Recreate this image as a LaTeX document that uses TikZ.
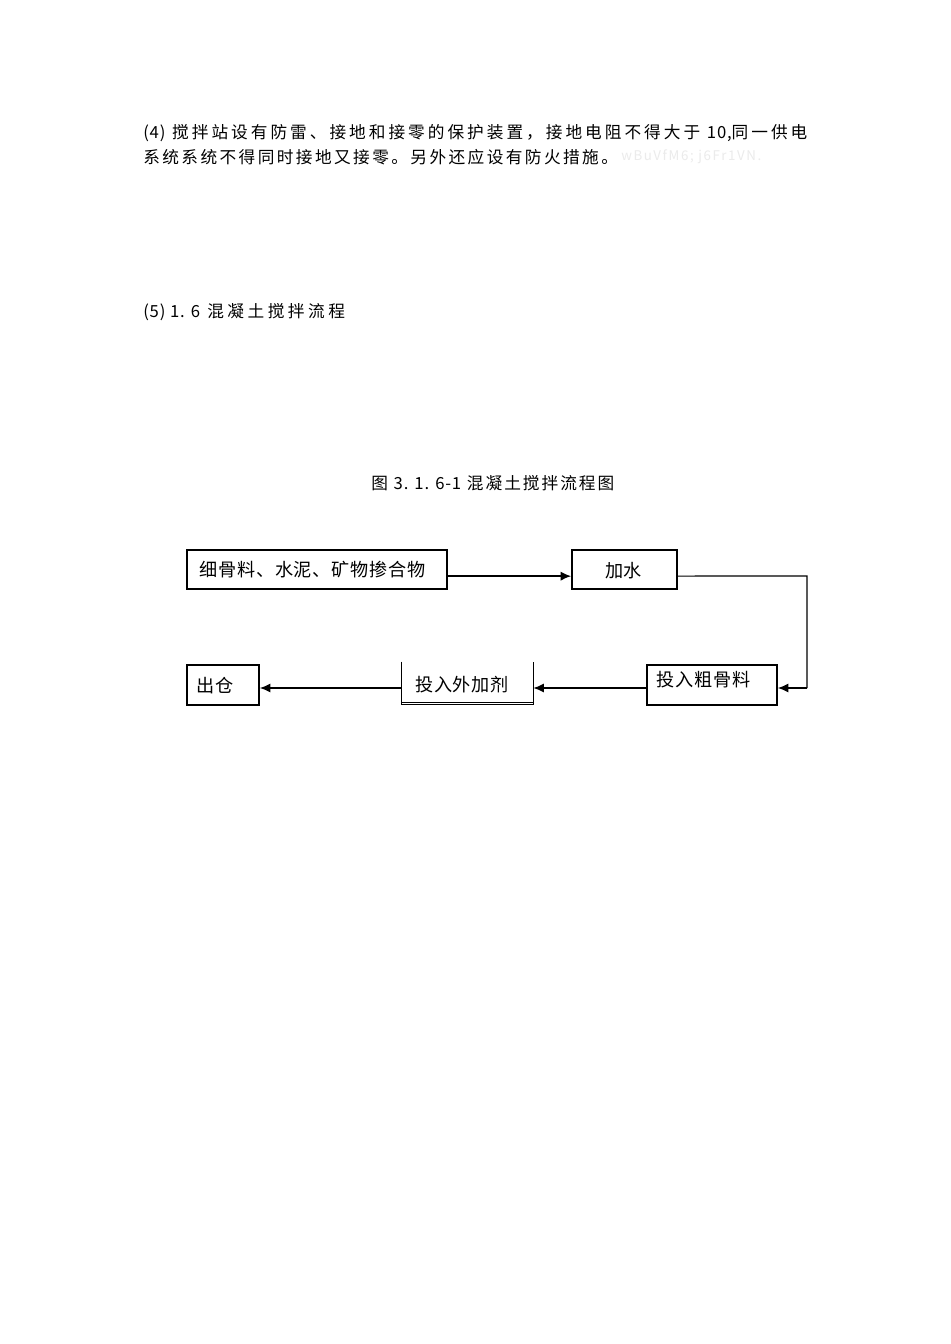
\documentclass[tikz,border=0pt]{standalone}
\usepackage{fontspec}
\newfontfamily\pfont[LetterSpace=12]{Noto Sans CJK SC}
\newfontfamily\pwfont[LetterSpace=18]{Noto Sans CJK SC}
\newfontfamily\ptfont[LetterSpace=14.5]{Noto Sans CJK SC}
\newfontfamily\hfont[LetterSpace=21]{Noto Sans CJK SC}
\newfontfamily\lfont[LetterSpace=5]{Noto Sans CJK SC}
\newfontfamily\bfont[LetterSpace=4]{Noto Sans CJK SC}
\usetikzlibrary{arrows.meta}
\tikzset{
  ptext/.style={anchor=west,inner sep=0pt,font=\pfont\fontsize{12.5pt}{15pt}\selectfont},
  pwtext/.style={anchor=west,inner sep=0pt,font=\pwfont\fontsize{12.5pt}{15pt}\selectfont},
  pttext/.style={anchor=west,inner sep=0pt,font=\ptfont\fontsize{12.5pt}{15pt}\selectfont},
  htext/.style={anchor=west,inner sep=0pt,font=\hfont\fontsize{12.5pt}{15pt}\selectfont},
  faint/.style={anchor=west,inner sep=0pt,text=black!8,font=\pfont\fontsize{10pt}{12pt}\selectfont},
  btext/.style={inner sep=0pt,font=\bfont\fontsize{13.6pt}{16pt}\selectfont},
  boxs/.style={draw,line width=1.1pt,inner sep=0pt},
  openbox/.style={draw=none,inner sep=0pt},
  arr/.style={line width=1.4pt,-{Latex[length=8pt,width=7pt]}},
  thinline/.style={line width=0.8pt}
}
\begin{document}
\begin{tikzpicture}[x=0.75pt,y=-0.75pt]
\useasboundingbox[fill=white] (0,0) rectangle (950,1344);
% paragraph text
\node[pwtext] (p1) at (143,133) {{\lfont (4)} 搅拌站设有防雷、接地和接零的保护装置，接地电阻不得大于 {\lfont 10,}同一供电};
\node[pttext] (p2) at (143,157) {系统系统不得同时接地又接零。另外还应设有防火措施。};
\node[faint] (p3) at (621,157) {wBuVfM6; j6Fr1VN.};
\node[htext] (h5) at (143,312) {{\lfont (5) 1. 6} 混凝土搅拌流程};
\node[ptext] (cap) at (371,483) {图 {\lfont 3. 1. 6-1} 混凝土搅拌流程图};
% boxes
\node[boxs,minimum width=195pt,minimum height=29.25pt] (b1) at (317,569.5) {};
\node[boxs,minimum width=78.75pt,minimum height=29.25pt] (b2) at (624.5,569.5) {};
\node[boxs,minimum width=97.5pt,minimum height=30pt] (b3) at (712,685) {};
\node[openbox,minimum width=98.25pt,minimum height=31.5pt] (b4) at (467.5,683) {};
\node[boxs,minimum width=54pt,minimum height=30pt] (b5) at (223,685) {};
\draw[line width=1.1pt] (b4.north west) -- (b4.south west) -- (b4.south east) -- (b4.north east);
\draw[line width=0.6pt] ([yshift=1.4pt]b4.south west) -- ([yshift=1.4pt]b4.south east);
% box texts
\node[btext] (t1) at (312.5,570) {细骨料、水泥、矿物掺合物};
\node[btext] (t2) at (623.5,571) {加水};
\node[btext] (t3) at (703.5,680) {投入粗骨料};
\node[btext] (t4) at (462,685) {投入外加剂};
\node[btext] (t5) at (215,686) {出仓};
% connectors
\coordinate (c1) at (807,576);
\coordinate (c2) at (807,688);
\draw[arr] ([yshift=-5pt]b1.east) -- ([yshift=-5pt]b2.west);
\draw[thinline] ([yshift=-4.9pt]b2.east) -- (c1) -- (c2);
\draw[arr] (c2) -- ([yshift=-2.25pt]b3.east);
\draw[arr] ([yshift=-2.25pt]b3.west) -- ([yshift=-3.75pt]b4.east);
\draw[arr] ([yshift=-3.75pt]b4.west) -- ([yshift=-2.25pt]b5.east);
\end{tikzpicture}
\end{document}
